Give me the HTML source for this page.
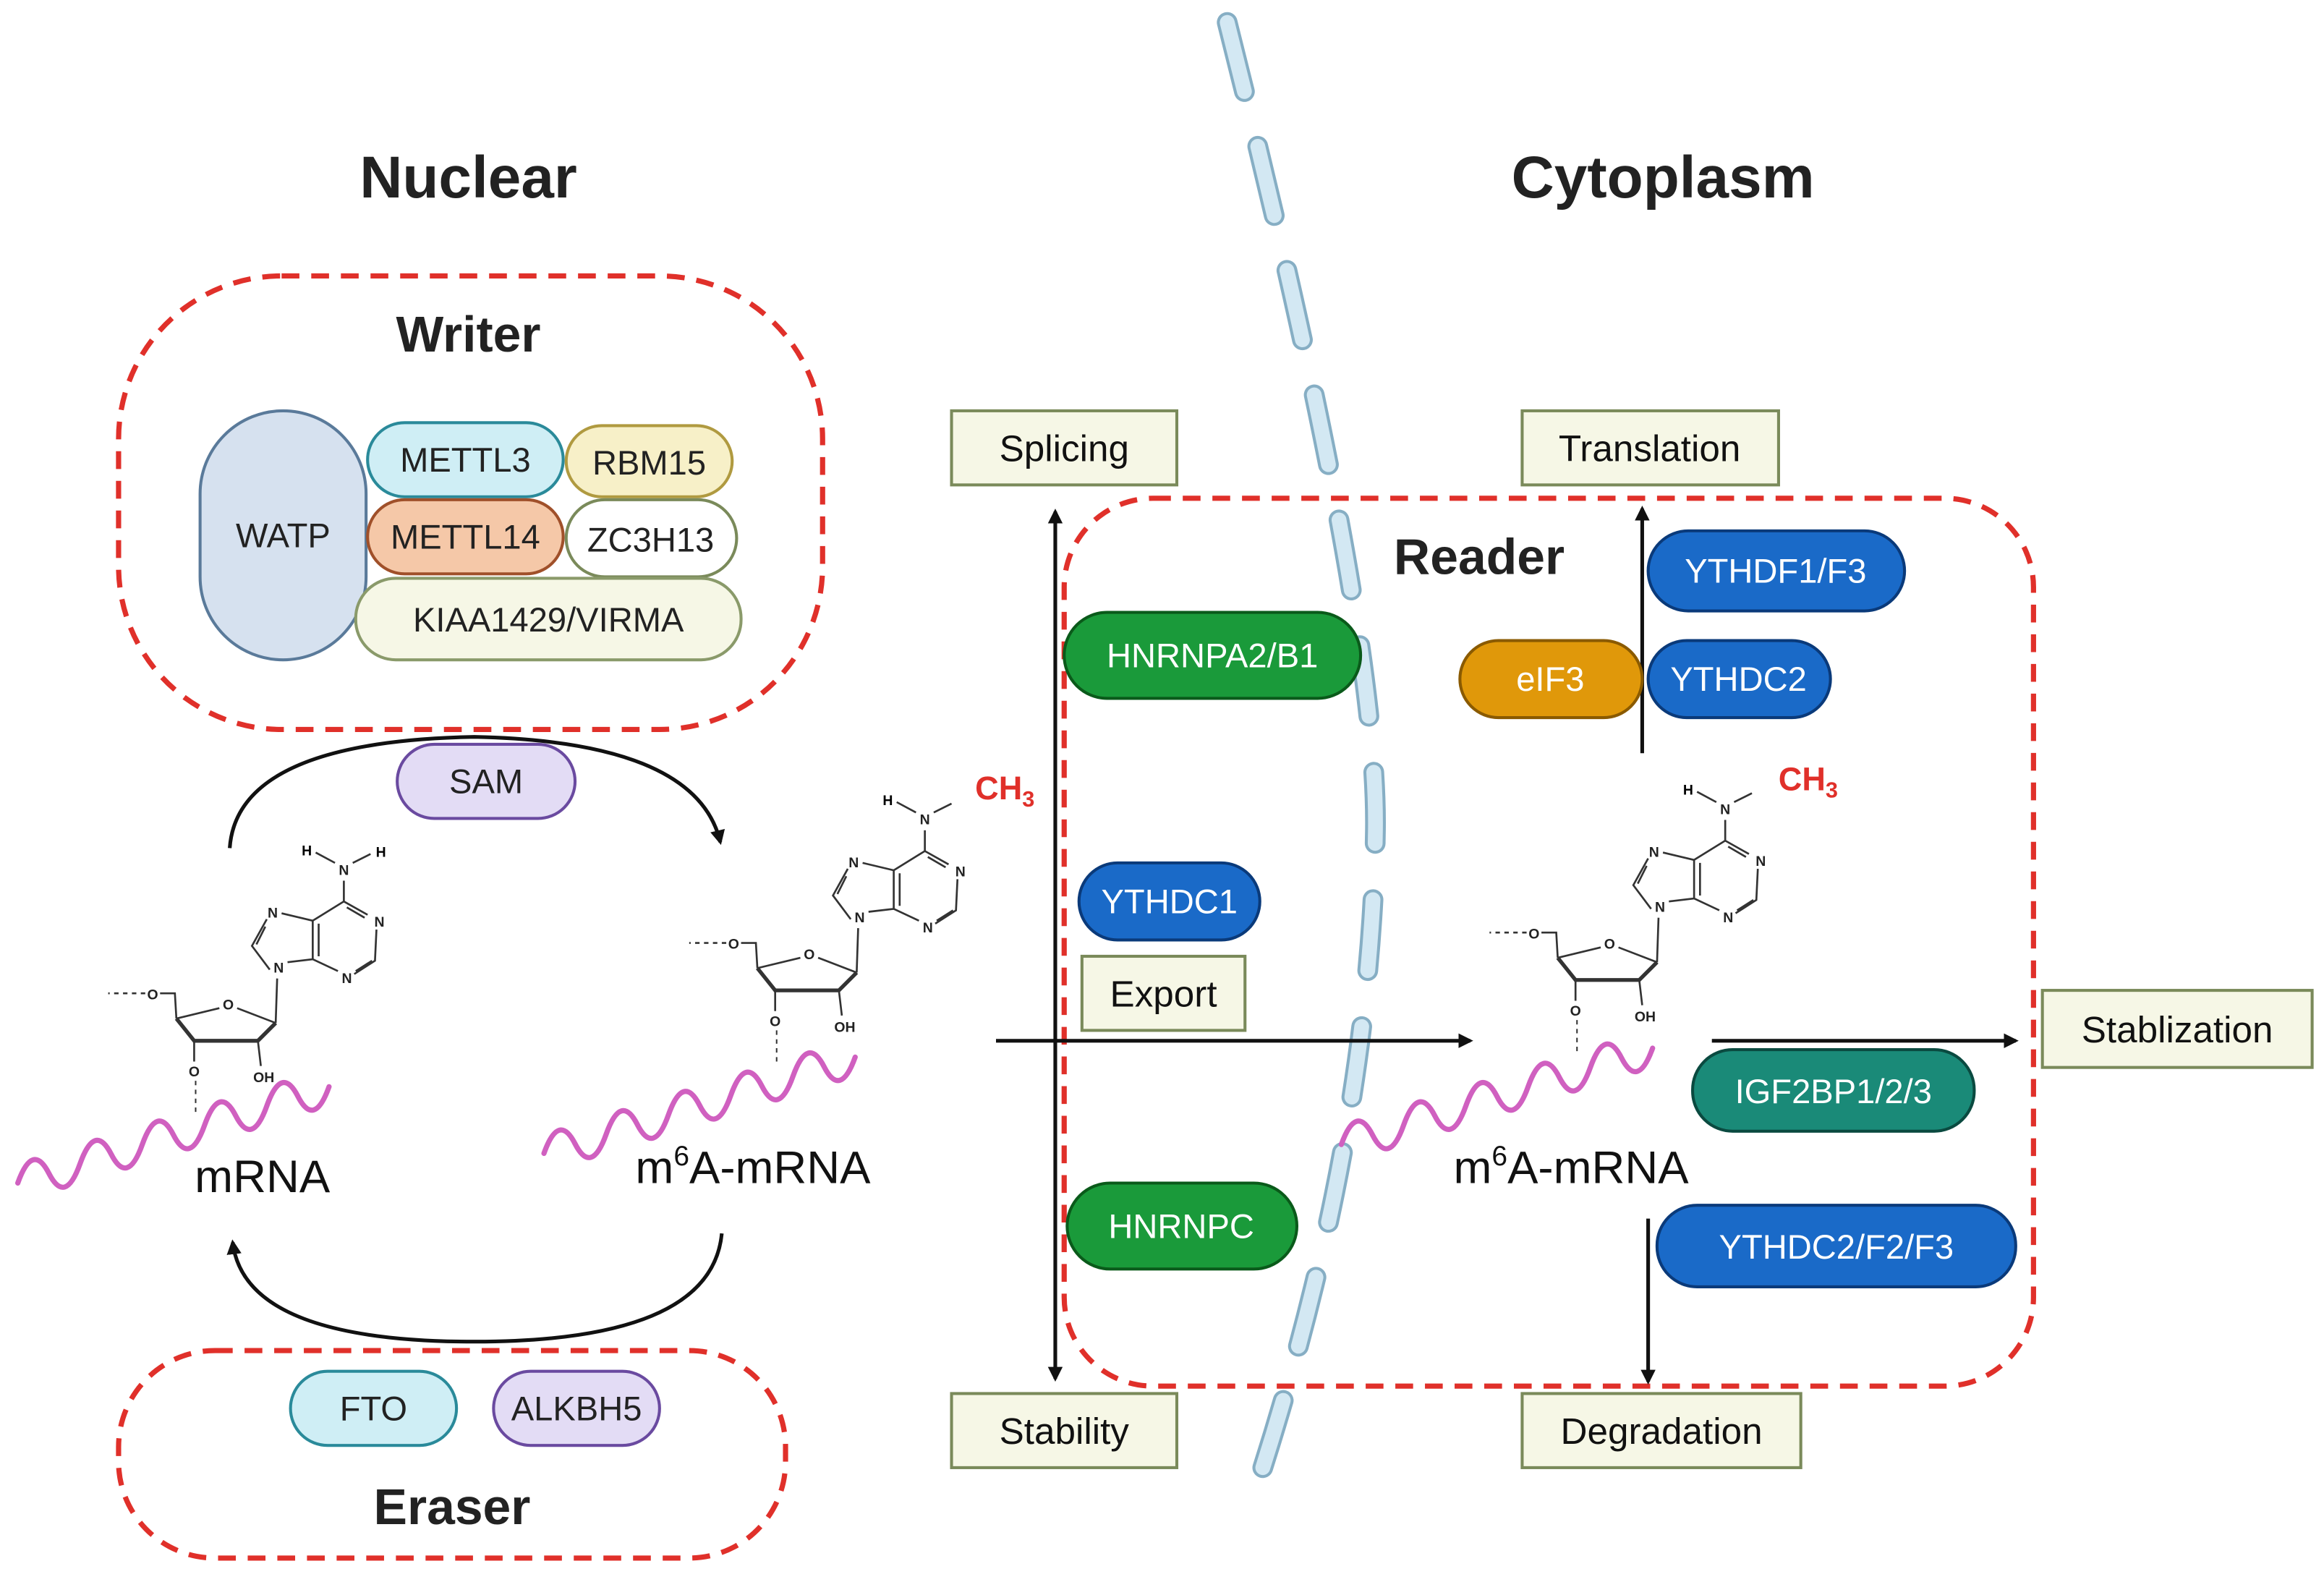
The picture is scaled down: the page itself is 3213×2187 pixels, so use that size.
<!DOCTYPE html>
<html><head><meta charset="utf-8"><style>
html,body{margin:0;padding:0;background:#fff}
svg{display:block}
text{font-family:"Liberation Sans",Arial,sans-serif}
</style></head><body>
<svg width="3213" height="2187" viewBox="0 0 1568 1067" xmlns="http://www.w3.org/2000/svg">
<defs>
<marker id="ah" markerWidth="10" markerHeight="10" refX="8" refY="5" orient="auto" markerUnits="userSpaceOnUse">
<path d="M0,0 L10,5 L0,10 z" fill="#111"/></marker>
<g id="mol" stroke="#333" stroke-width="1.3" fill="none">
<path d="M-2,38 L-14,50 L-57,50 L-69,35" stroke-width="2.6"/>
<path d="M-69,35 L-40,28 M-28,28 L-2,38 M-2,38 L-1,8"/>
<path d="M-69,35 L-70,18 L-80,18"/>
<path d="M-90,18 L-115,18" stroke-dasharray="3,3"/>
<path d="M-57,50 L-57,64 M-14,50 L-12,67"/>
<path d="M-6,2 L-18,-14 L-8,-32 M-15,-15 L-9,-27"/>
<path d="M6,-3 L23,-5 L23,-31 L44,-44 L60,-35 M27,-7 L27,-29 M46,-40 L58,-33"/>
<path d="M2,-36 L23,-31 M23,-5 L40,3 M51,5 L65,-4 L66,-25 M52,3 L63,-4"/>
<path d="M44,-44 L44,-58"/>
<path d="M38,-70 L25,-77 M50,-70 L62,-76"/>
</g>
<g id="atoms" fill="#222" font-size="9.5" font-weight="bold" text-anchor="middle">
<text x="0" y="4">N</text><text x="-4" y="-33">N</text><text x="68" y="-27">N</text><text x="46" y="11">N</text>
<text x="44" y="-62">N</text>
<text x="-34" y="29">O</text><text x="-85" y="22">O</text><text x="-57" y="74">O</text><text x="-10" y="78">OH</text>
</g>
</defs>

<path d="M828,15 Q930,420 928,560 Q925,760 852,990" fill="none" stroke="#86aec4" stroke-width="14" stroke-dasharray="48,38" stroke-linecap="round"/>
<path d="M828,15 Q930,420 928,560 Q925,760 852,990" fill="none" stroke="#d3e8f3" stroke-width="10" stroke-dasharray="48,38" stroke-linecap="round"/>

<text x="316" y="133" font-size="40" font-weight="bold" text-anchor="middle" fill="#222">Nuclear</text>
<text x="1122" y="133" font-size="40" font-weight="bold" text-anchor="middle" fill="#222">Cytoplasm</text>

<rect x="80" y="186" width="475" height="306" rx="110" fill="none" stroke="#e0302a" stroke-width="3.5" stroke-dasharray="12,8"/>
<text x="316" y="237" font-size="34" font-weight="bold" text-anchor="middle" fill="#222">Writer</text>
<g font-size="23" text-anchor="middle" fill="#222">
<rect x="135" y="277" width="112" height="168" rx="56" fill="#d6e1ef" stroke="#5a7a9a" stroke-width="2"/>
<text x="191" y="369">WATP</text>
<rect x="248" y="285" width="132" height="50" rx="25" fill="#cfeef5" stroke="#2a8a9a" stroke-width="2"/>
<text x="314" y="318">METTL3</text>
<rect x="382" y="287" width="112" height="48" rx="24" fill="#f7f0c8" stroke="#b09a40" stroke-width="2"/>
<text x="438" y="320">RBM15</text>
<rect x="248" y="337" width="132" height="50" rx="25" fill="#f5c8a8" stroke="#a0502a" stroke-width="2"/>
<text x="314" y="370">METTL14</text>
<rect x="382" y="337" width="115" height="52" rx="26" fill="#fff" stroke="#7a8a5a" stroke-width="2"/>
<text x="439" y="372">ZC3H13</text>
<rect x="240" y="390" width="260" height="55" rx="27" fill="#f6f7e6" stroke="#8a9a6a" stroke-width="2"/>
<text x="370" y="426">KIAA1429/VIRMA</text>
<rect x="268" y="502" width="120" height="50" rx="25" fill="#e3dcf5" stroke="#6a4aa0" stroke-width="2"/>
<text x="328" y="535">SAM</text>
</g>

<path d="M155,572 Q160,500 320,497 Q470,500 486,568" fill="none" stroke="#111" stroke-width="2.5" marker-end="url(#ah)"/>
<path d="M487,832 Q480,905 320,905 Q165,905 157,838" fill="none" stroke="#111" stroke-width="2.5" marker-end="url(#ah)"/>

<g transform="translate(188,652)"><use href="#mol"/><use href="#atoms"/>
<text x="19" y="-75" font-size="9.5" font-weight="bold" text-anchor="middle">H</text><text x="69" y="-74" font-size="9.5" font-weight="bold" text-anchor="middle">H</text>
<path d="M-56,77 L-56,100" stroke="#333" stroke-dasharray="3,3"/></g>
<g transform="translate(580,618)"><use href="#mol"/><use href="#atoms"/>
<text x="19" y="-75" font-size="9.5" font-weight="bold" text-anchor="middle">H</text>
<text x="98" y="-79" font-size="22" font-weight="bold" fill="#e0302a" text-anchor="middle">CH<tspan font-size="15" dy="5">3</tspan></text>
<path d="M-56,77 L-56,100" stroke="#333" stroke-dasharray="3,3"/></g>
<g transform="translate(1120,611)"><use href="#mol"/><use href="#atoms"/>
<text x="19" y="-75" font-size="9.5" font-weight="bold" text-anchor="middle">H</text>
<text x="100" y="-78" font-size="22" font-weight="bold" fill="#e0302a" text-anchor="middle">CH<tspan font-size="15" dy="5">3</tspan></text>
<path d="M-56,77 L-56,100" stroke="#333" stroke-dasharray="3,3"/></g>

<g fill="none" stroke="#d060c0" stroke-width="3.5" stroke-linecap="round">
<path d="M12,798 q10,-28 21,-6.5 t21,-6.5 t21,-6.5 t21,-6.5 t21,-6.5 t21,-6.5 t21,-6.5 t21,-6.5 t21,-6.5 t21,-6.5"/>
<path d="M367,778 q10,-28 21,-6.5 t21,-6.5 t21,-6.5 t21,-6.5 t21,-6.5 t21,-6.5 t21,-6.5 t21,-6.5 t21,-6.5 t21,-6.5"/>
<path d="M905,772 q10,-28 21,-6.5 t21,-6.5 t21,-6.5 t21,-6.5 t21,-6.5 t21,-6.5 t21,-6.5 t21,-6.5 t21,-6.5 t21,-6.5"/>
</g>
<g font-size="31" text-anchor="middle" fill="#111">
<text x="177" y="804">mRNA</text>
<text x="508" y="798">m<tspan font-size="19" dy="-12">6</tspan><tspan dy="12">A-mRNA</tspan></text>
<text x="1060" y="798">m<tspan font-size="19" dy="-12">6</tspan><tspan dy="12">A-mRNA</tspan></text>
</g>

<rect x="80" y="911" width="450" height="140" rx="65" fill="none" stroke="#e0302a" stroke-width="3.5" stroke-dasharray="12,8"/>
<g font-size="23" text-anchor="middle" fill="#222">
<rect x="196" y="925" width="112" height="50" rx="25" fill="#cfeef5" stroke="#2a8a9a" stroke-width="2"/>
<text x="252" y="958">FTO</text>
<rect x="333" y="925" width="112" height="50" rx="25" fill="#e3dcf5" stroke="#6a4aa0" stroke-width="2"/>
<text x="389" y="958">ALKBH5</text>
</g>
<text x="305" y="1028" font-size="34" font-weight="bold" text-anchor="middle" fill="#222">Eraser</text>

<rect x="718" y="336" width="654" height="599" rx="60" fill="none" stroke="#e0302a" stroke-width="3.5" stroke-dasharray="12,8"/>
<text x="998" y="387" font-size="34" font-weight="bold" text-anchor="middle" fill="#222">Reader</text>

<g stroke="#111" stroke-width="2.5" fill="none">
<path d="M712,400 L712,345" marker-end="url(#ah)"/>
<path d="M712,400 L712,930" marker-end="url(#ah)"/>
<path d="M672,702 L992,702" marker-end="url(#ah)"/>
<path d="M1108,508 L1108,343" marker-end="url(#ah)"/>
<path d="M1155,702 L1360,702" marker-end="url(#ah)"/>
<path d="M1112,822 L1112,932" marker-end="url(#ah)"/>
</g>

<g font-size="25" text-anchor="middle" fill="#111">
<rect x="642" y="277" width="152" height="50" fill="#f6f7e6" stroke="#7a8a5a" stroke-width="2"/><text x="718" y="311">Splicing</text>
<rect x="642" y="940" width="152" height="50" fill="#f6f7e6" stroke="#7a8a5a" stroke-width="2"/><text x="718" y="974">Stability</text>
<rect x="730" y="645" width="110" height="50" fill="#f6f7e6" stroke="#7a8a5a" stroke-width="2"/><text x="785" y="679">Export</text>
<rect x="1027" y="277" width="173" height="50" fill="#f6f7e6" stroke="#7a8a5a" stroke-width="2"/><text x="1113" y="311">Translation</text>
<rect x="1378" y="668" width="182" height="52" fill="#f6f7e6" stroke="#7a8a5a" stroke-width="2"/><text x="1469" y="703">Stablization</text>
<rect x="1027" y="940" width="188" height="50" fill="#f6f7e6" stroke="#7a8a5a" stroke-width="2"/><text x="1121" y="974">Degradation</text>
</g>

<g font-size="23" text-anchor="middle" fill="#fff">
<rect x="718" y="413" width="200" height="58" rx="29" fill="#1a9a3a" stroke="#0a5a1a" stroke-width="2"/><text x="818" y="450">HNRNPA2/B1</text>
<rect x="728" y="582" width="122" height="52" rx="26" fill="#1a6ac8" stroke="#0a3a7a" stroke-width="2"/><text x="789" y="616">YTHDC1</text>
<rect x="720" y="798" width="155" height="58" rx="29" fill="#1a9a3a" stroke="#0a5a1a" stroke-width="2"/><text x="797" y="835">HNRNPC</text>
<rect x="1112" y="358" width="173" height="54" rx="27" fill="#1a6ac8" stroke="#0a3a7a" stroke-width="2"/><text x="1198" y="393">YTHDF1/F3</text>
<rect x="985" y="432" width="123" height="52" rx="26" fill="#e0980a" stroke="#8a5a00" stroke-width="2"/><text x="1046" y="466">eIF3</text>
<rect x="1112" y="432" width="123" height="52" rx="26" fill="#1a6ac8" stroke="#0a3a7a" stroke-width="2"/><text x="1173" y="466">YTHDC2</text>
<rect x="1142" y="708" width="190" height="55" rx="27" fill="#1a8a78" stroke="#0a4a40" stroke-width="2"/><text x="1237" y="744">IGF2BP1/2/3</text>
<rect x="1118" y="813" width="242" height="55" rx="27" fill="#1a6ac8" stroke="#0a3a7a" stroke-width="2"/><text x="1239" y="849">YTHDC2/F2/F3</text>
</g>
</svg>
</body></html>
